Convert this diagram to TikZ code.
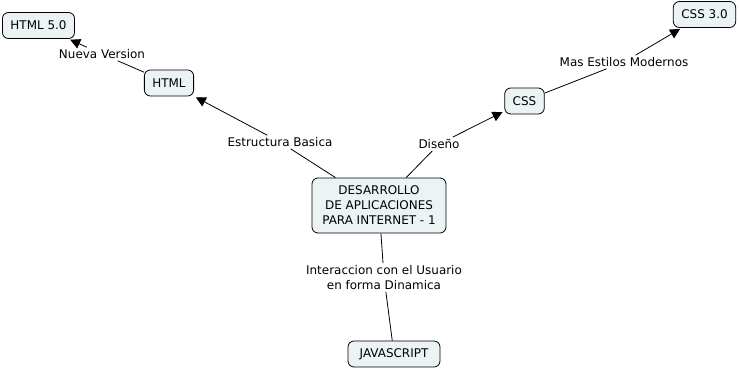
\documentclass[tikz,border=0pt]{standalone}
\usepackage{fontspec}
\setmainfont{DejaVu Sans}
\usepackage{tikz}
\usetikzlibrary{positioning, arrows.meta, calc}

\definecolor{fondo}{RGB}{236,243,245}

\begin{document}
\begin{tikzpicture}[
    x=1bp, y=-1bp,
    font=\fontsize{12}{15}\selectfont,
    concepto/.style={draw=black, fill=fondo, rounded corners=6bp, line width=0.8bp,
        minimum height=26bp, inner xsep=8bp, inner ysep=5bp, align=center},
    enlace/.style={inner sep=2bp, align=center},
    linea/.style={line width=0.8bp},
    flecha/.style={linea, -{Triangle[length=10bp, width=10bp]}, shorten >=2bp}
]
    \useasboundingbox (0,0) rectangle (739,368);

    % conceptos
    \node[concepto, minimum width=134bp, minimum height=55bp] (centro) at (379,205.5) {DESARROLLO\\DE APLICACIONES\\PARA INTERNET - 1};
    \node[concepto, minimum width=48bp] (html) at (169,83) {HTML};
    \node[concepto] (html5) at (38.5,25.5) {HTML 5.0};
    \node[concepto] (css) at (524.5,101) {CSS};
    \node[concepto] (css3) at (704.5,14.5) {CSS 3.0};
    \node[concepto, minimum width=92bp] (js) at (394,354) {JAVASCRIPT};

    % frases de enlace
    \node[enlace] (estructura) at (280,142) {Estructura Basica};
    \node[enlace] (nueva) at (102,54) {Nueva Version};
    \node[enlace] (diseno) at (439,144) {Diseño};
    \node[enlace] (estilos) at (624,62) {Mas Estilos Modernos};
    \node[enlace] (interaccion) at (384,277.5) {Interaccion con el Usuario\\en forma Dinamica};

    % conexiones
    \draw[linea] (centro) -- (estructura);
    \draw[flecha] (estructura) -- (html);
    \draw[linea] (html) -- (nueva);
    \draw[flecha] (nueva) -- (html5);
    \draw[linea] (centro) -- (diseno);
    \draw[flecha] (diseno) -- (css);
    \draw[linea] (css) -- (estilos);
    \draw[flecha] (estilos) -- (css3);
    \draw[linea] (centro) -- (interaccion);
    \draw[linea] (interaccion) -- (js);
\end{tikzpicture}
\end{document}
